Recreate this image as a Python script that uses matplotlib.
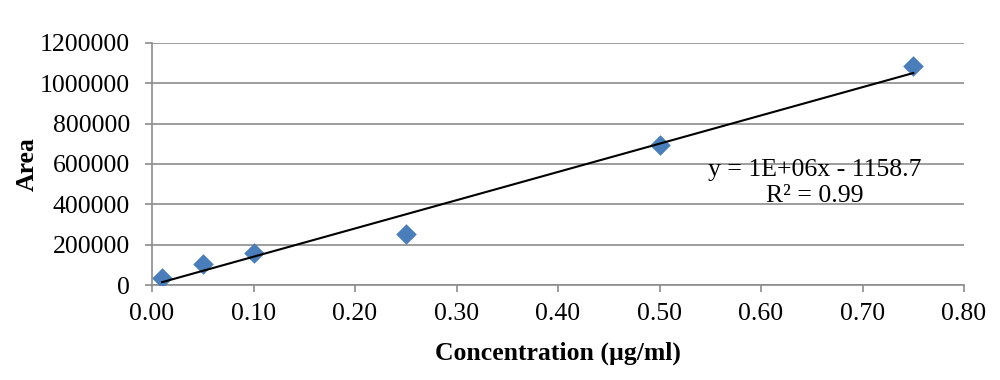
import numpy as np
import matplotlib.pyplot as plt

# calibration data
concentration = [0.01, 0.05, 0.10, 0.25, 0.50, 0.75]
area = [35000, 104000, 158000, 253000, 692000, 1084000]

x_ticks = [0.0, 0.1, 0.2, 0.3, 0.4, 0.5, 0.6, 0.7, 0.8]
y_ticks = [0, 200000, 400000, 600000, 800000, 1000000, 1200000]

equation_text = "y = 1E+06x - 1158.7"
r2_text = "R\u00b2 = 0.99"


def main():
    plt.rcParams['font.family'] = ['Liberation Serif', 'DejaVu Serif']

    fig = plt.figure(figsize=(10, 3.8), dpi=100)
    ax = fig.add_axes([0.152, 0.25, 0.812, 0.637])

    grid_col = '#8c8c8c'

    ax.scatter(concentration, area, marker='D', s=110, color='#4a7ebb',
               zorder=3, linewidths=0)

    # linear trendline
    slope, intercept = np.polyfit(concentration, area, 1)
    xs = np.array([min(concentration), max(concentration)])
    ax.plot(xs, slope * xs + intercept, color='black', linewidth=1.5,
            zorder=4)

    ax.set_xlim(0, 0.8)
    ax.set_ylim(0, 1200000)
    ax.set_xticks(x_ticks)
    ax.set_yticks(y_ticks)
    ax.set_xticklabels([f"{v:.2f}" for v in x_ticks])
    ax.set_yticklabels([f"{v}" for v in y_ticks])

    ax.yaxis.grid(True, color=grid_col, linewidth=1.2)
    ax.set_axisbelow(True)

    for side in ['top', 'right']:
        ax.spines[side].set_visible(False)
    for side in ['left', 'bottom']:
        ax.spines[side].set_color(grid_col)
        ax.spines[side].set_linewidth(1.2)

    ax.tick_params(axis='both', labelsize=18.5, colors=grid_col,
                   labelcolor='black', length=5, width=1.2)
    ax.tick_params(axis='y', pad=11)
    ax.tick_params(axis='x', pad=8)

    ax.set_xlabel("Concentration (\u00b5g/ml)", fontsize=18.5,
                  fontweight='bold', labelpad=12)
    ax.set_ylabel("Area", fontsize=18.5, fontweight='bold', labelpad=1)

    ax.text(0.815, 0.553, equation_text, transform=fig.transFigure,
            fontsize=18.5, ha='center', va='center')
    ax.text(0.815, 0.484, r2_text, transform=fig.transFigure,
            fontsize=18.5, ha='center', va='center')

    fig.savefig("out.png", dpi=100)


if __name__ == "__main__":
    main()
